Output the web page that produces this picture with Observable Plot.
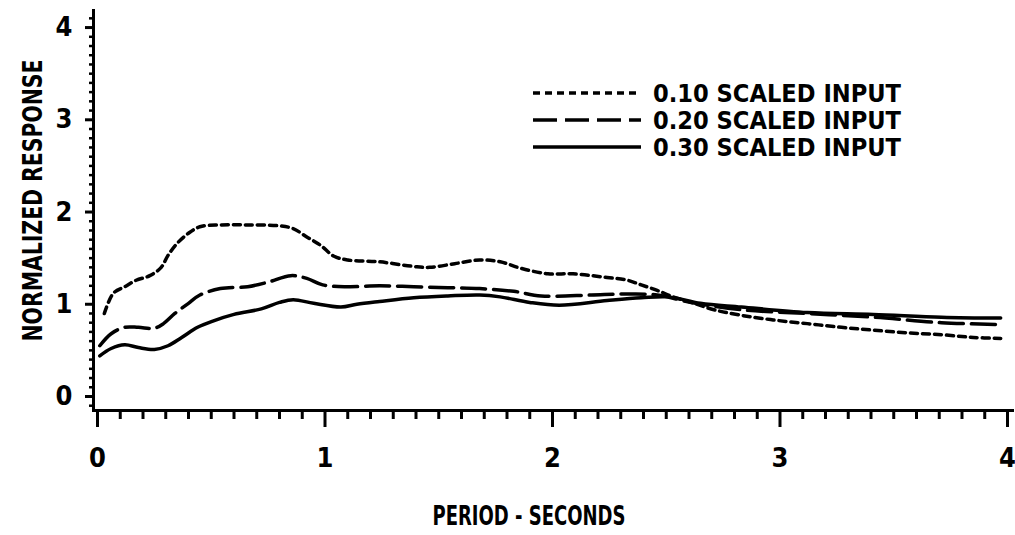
<!DOCTYPE html>
<html>
<head>
<meta charset="utf-8">
<script src="https://cdn.jsdelivr.net/npm/d3@7"></script>
<script src="https://cdn.jsdelivr.net/npm/@observablehq/plot@0.6"></script>
<style>
  html, body { margin: 0; padding: 0; background: #fff; }
  #wrap { position: relative; width: 1015px; height: 535px; }
  #wrap svg text { font-family: "DejaVu Sans Condensed", "Liberation Sans Narrow", sans-serif; font-weight: bold; }
  #legend { position: absolute; left: 0; top: 0; }
</style>
</head>
<body>
<div id="wrap"></div>
<script>
// ---- data ----
const seriesNames = ["0.10 SCALED INPUT", "0.20 SCALED INPUT", "0.30 SCALED INPUT"];
const period10 = [0.03,0.07,0.12,0.17,0.23,0.28,0.31,0.35,0.40,0.45,0.54,0.66,0.80,0.86,0.92,0.98,1.04,1.10,1.24,1.39,1.46,1.57,1.68,1.77,1.86,1.98,2.09,2.24,2.33,2.39,2.46,2.53,2.61,2.71,2.83,2.97,3.12,3.27,3.41,3.56,3.71,3.85,3.97];
const resp10   = [0.90,1.12,1.19,1.26,1.31,1.40,1.53,1.66,1.77,1.84,1.86,1.86,1.85,1.82,1.73,1.64,1.52,1.48,1.46,1.41,1.40,1.44,1.48,1.46,1.39,1.33,1.33,1.29,1.26,1.21,1.15,1.08,1.02,0.94,0.88,0.83,0.79,0.75,0.72,0.69,0.67,0.64,0.63];
const period20 = [0.01,0.06,0.12,0.18,0.25,0.29,0.34,0.40,0.45,0.54,0.66,0.75,0.85,0.92,0.99,1.10,1.24,1.39,1.54,1.68,1.83,1.95,2.17,2.31,2.46,2.61,2.83,3.12,3.41,3.71,3.97];
const resp20   = [0.55,0.68,0.75,0.75,0.74,0.79,0.90,1.01,1.10,1.17,1.19,1.24,1.31,1.28,1.21,1.19,1.20,1.19,1.18,1.17,1.14,1.09,1.10,1.11,1.10,1.02,0.94,0.90,0.86,0.80,0.78];
const period30 = [0.01,0.06,0.12,0.18,0.25,0.31,0.37,0.44,0.51,0.60,0.72,0.80,0.86,0.95,1.07,1.14,1.24,1.39,1.54,1.68,1.77,1.90,2.03,2.24,2.39,2.51,2.65,2.83,3.12,3.41,3.71,3.97];
const resp30   = [0.44,0.52,0.56,0.53,0.51,0.55,0.64,0.75,0.82,0.89,0.95,1.02,1.05,1.01,0.97,1.00,1.03,1.07,1.09,1.10,1.08,1.02,0.99,1.04,1.07,1.08,1.01,0.97,0.91,0.89,0.86,0.85];
const xMajorTicks = [0, 1, 2, 3, 4];
const yMajorTicks = [0, 1, 2, 3, 4];
const xLabel = "PERIOD - SECONDS";
const yLabel = "NORMALIZED RESPONSE";

// ---- build table ----
const toRows = (xs, ys, name) => xs.map((x, i) => ({period: x, response: ys[i], series: name}));
const rows10 = toRows(period10, resp10, seriesNames[0]);
const rows20 = toRows(period20, resp20, seriesNames[1]);
const rows30 = toRows(period30, resp30, seriesNames[2]);

const xMinor = d3.range(1, 40).map(d => d / 10).filter(d => !xMajorTicks.includes(d));
const yMinor = d3.range(-1, 42).map(d => d / 10).filter(d => !yMajorTicks.includes(d));

const dashes = ["7,5", "24,8", null];
const lineStyle = {x: "period", y: "response", stroke: "black", strokeWidth: 3.5, curve: "catmull-rom"};

const chart = Plot.plot({
  width: 1015,
  height: 535,
  marginLeft: 93,
  marginRight: 3,
  marginTop: 10,
  marginBottom: 125,
  style: {background: "white", color: "black", overflow: "visible"},
  x: {domain: [-0.0176, 4.022]},
  y: {domain: [-0.152, 4.185]},
  marks: [
    Plot.frame({anchor: "left", strokeWidth: 3}),
    Plot.frame({anchor: "bottom", strokeWidth: 3}),
    Plot.axisX({ticks: xMinor, tickSize: 9, tickFormat: () => "", strokeWidth: 3, label: null}),
    Plot.axisX({ticks: xMajorTicks, tickSize: 17, tickPadding: 20, strokeWidth: 3, fontSize: 27, tickFormat: d => String(d), label: null}),
    Plot.axisY({ticks: yMinor, tickSize: 4, tickFormat: () => "", strokeWidth: 2.5, label: null}),
    Plot.axisY({ticks: yMajorTicks, tickSize: 8, tickPadding: 13, strokeWidth: 3, fontSize: 27, tickFormat: d => String(d), label: null}),
    Plot.line(rows10, {...lineStyle, strokeDasharray: dashes[0]}),
    Plot.line(rows20, {...lineStyle, strokeDasharray: dashes[1]}),
    Plot.line(rows30, {...lineStyle}),
    Plot.text([xLabel], {text: d => d, frameAnchor: "bottom", textAnchor: "middle", dx: -24, dy: 114, fontSize: 27, className: "xlab"}),
    Plot.text([yLabel], {text: d => d, frameAnchor: "left", textAnchor: "middle", rotate: -90, dx: -60, dy: -10, fontSize: 27, className: "ylab"})
  ]
});

const wrap = document.getElementById("wrap");
wrap.appendChild(chart);

// compress text horizontally to match the narrow lettering
d3.select(chart).selectAll(".xlab text").attr("textLength", 193).attr("lengthAdjust", "spacingAndGlyphs");
d3.select(chart).selectAll(".ylab text").attr("textLength", 282).attr("lengthAdjust", "spacingAndGlyphs");

// ---- legend (overlay) ----
const legendRowsY = [93, 120, 147];
const leg = d3.select(wrap).append("svg").attr("id", "legend").attr("width", 1015).attr("height", 535);
seriesNames.forEach((name, i) => {
  const g = leg.append("g").attr("transform", `translate(0,${legendRowsY[i]})`);
  g.append("line").attr("x1", 533).attr("x2", 641).attr("y1", 0).attr("y2", 0)
    .attr("stroke", "black").attr("stroke-width", 3.5)
    .attr("stroke-dasharray", dashes[i] ? dashes[i] : null);
  g.append("text").attr("x", 653).attr("y", 9).attr("font-size", 25)
    .attr("textLength", 248).attr("lengthAdjust", "spacingAndGlyphs")
    .attr("fill", "black").text(name);
});
</script>
</body>
</html>
